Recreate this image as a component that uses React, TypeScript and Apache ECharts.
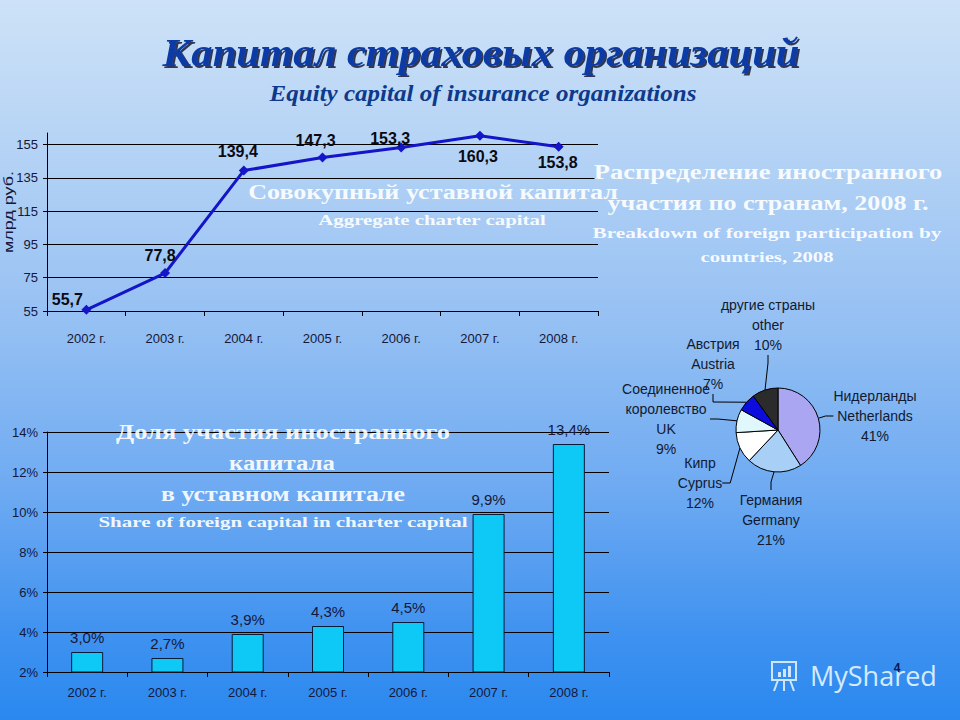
import React, { useEffect, useRef } from 'react';
import * as echarts from 'echarts';

// ---------- data ----------
const years = ['2002 г.', '2003 г.', '2004 г.', '2005 г.', '2006 г.', '2007 г.', '2008 г.'];
const capitalValues = [55.7, 77.8, 139.4, 147.3, 153.3, 160.3, 153.8];
const capitalTicks = [55, 75, 95, 115, 135, 155];
const foreignShareValues = [3.0, 2.7, 3.9, 4.3, 4.5, 9.9, 13.4];
const countryNamesRu = ['Нидерланды', 'Германия', 'Кипр', 'Соединенное\nкоролевство', 'Австрия', 'другие страны'];
const countryNamesEn = ['Netherlands', 'Germany', 'Cyprus', 'UK', 'Austria', 'other'];
const countryShares = [41, 21, 12, 9, 7, 10];

// ---------- styles ----------
const SANS = "'Liberation Sans', Arial, sans-serif";
const SERIF = "'Liberation Serif', 'DejaVu Serif', serif";
const lineBlue = '#1414c8';
const inkColor = '#14183a';
const pieColors = ['#aaa6f2', '#a8d0f6', '#ffffff', '#e0f8fb', '#0c0cdc', '#2b2b2b'];
const capitalLabelPlacement = ['top', 'top', 'top', 'top', 'top', 'bottom', 'bottom'];
const capitalLabelOffsets = [[-19, 8], [-5, 0], [-6, -1], [-7, 1], [-11, 9], [-2, 3], [-1, -2]];
const pieLabelCenters = [[875, 416], [771, 520], [700, 483], [666, 419], [713, 364], [768, 325]];

function measure(text: string, font: string): number {
  const ctx = document.createElement('canvas').getContext('2d');
  if (!ctx) return 0;
  ctx.font = font;
  return ctx.measureText(text).width;
}

function txt(text: string, x: number, y: number, font: string, fill: string, width?: number, extra: any = {}) {
  const m = width ? measure(text, font) : 0;
  return {
    type: 'text',
    x,
    y,
    z: 100,
    scaleX: width && m ? width / m : 1,
    rotation: extra.rotation || 0,
    style: {
      text,
      font,
      fill,
      align: 'center',
      verticalAlign: 'middle',
      textAlign: 'center',
      textVerticalAlign: 'middle',
      ...(extra.style || {}),
    },
  };
}

const fmtComma = (v: number) => v.toFixed(1).replace('.', ',');

export default function App() {
  const ref = useRef<HTMLDivElement>(null);

  useEffect(() => {
    if (!ref.current) return;
    const chart = echarts.init(ref.current, null, { renderer: 'svg' });

    const whiteBig = `bold 20px ${SERIF}`;
    const whiteSmall = `bold 15px ${SERIF}`;
    const white = 'rgba(255,255,255,0.92)';

    const option: any = {
      animation: false,
      backgroundColor: 'transparent',
      grid: [
        { left: 47, top: 133, width: 551, height: 178, containLabel: false },
        { left: 47, top: 432, width: 562, height: 240, containLabel: false },
      ],
      xAxis: [
        {
          type: 'category',
          gridIndex: 0,
          data: years,
          boundaryGap: true,
          axisLine: { show: true, lineStyle: { color: '#000', width: 1 } },
          axisTick: { show: true, length: 5, lineStyle: { color: '#000' } },
          axisLabel: { margin: 21, fontSize: 13, color: inkColor, fontFamily: SANS, interval: 0 },
          splitLine: { show: false },
        },
        {
          type: 'category',
          gridIndex: 1,
          data: years,
          boundaryGap: true,
          axisLine: { show: true, lineStyle: { color: '#000', width: 1 } },
          axisTick: { show: true, length: 5, lineStyle: { color: '#000' } },
          axisLabel: { margin: 14, fontSize: 13, color: inkColor, fontFamily: SANS, interval: 0 },
          splitLine: { show: false },
        },
      ],
      yAxis: [
        {
          type: 'value',
          gridIndex: 0,
          min: 55,
          max: 162,
          interval: 20,
          axisLine: { show: true, lineStyle: { color: '#000', width: 1 } },
          axisTick: { show: true, length: 4, lineStyle: { color: '#000' } },
          axisLabel: {
            margin: 9,
            fontSize: 13,
            color: inkColor,
            fontFamily: SANS,
            showMaxLabel: false,
            formatter: (v: number) => (capitalTicks.includes(v) ? String(v) : ''),
          },
          splitLine: { show: true, showMaxLine: false, lineStyle: { color: '#000', width: 1.2 } },
        },
        {
          type: 'value',
          gridIndex: 1,
          min: 2,
          max: 14,
          interval: 2,
          axisLine: { show: true, lineStyle: { color: '#000', width: 1 } },
          axisTick: { show: true, length: 4, lineStyle: { color: '#000' } },
          axisLabel: {
            margin: 9,
            fontSize: 13,
            color: inkColor,
            fontFamily: SANS,
            formatter: (v: number) => `${v}%`,
          },
          splitLine: { show: true, lineStyle: { color: '#000', width: 1.2 } },
        },
      ],
      series: [
        {
          type: 'line',
          xAxisIndex: 0,
          yAxisIndex: 0,
          data: capitalValues.map((v, i) => ({
            value: v,
            label: { position: capitalLabelPlacement[i], offset: capitalLabelOffsets[i] },
          })),
          lineStyle: { color: lineBlue, width: 3 },
          itemStyle: { color: lineBlue },
          symbol: 'diamond',
          symbolSize: 10,
          label: {
            show: true,
            formatter: (p: any) => fmtComma(p.value),
            fontWeight: 'bold',
            fontSize: 16,
            color: '#0a0a14',
            fontFamily: SANS,
          },
          z: 5,
        },
        {
          type: 'bar',
          xAxisIndex: 1,
          yAxisIndex: 1,
          data: foreignShareValues,
          barWidth: 32,
          itemStyle: { color: '#0ec8f6', borderColor: '#0a1a3a', borderWidth: 1 },
          label: {
            show: true,
            position: 'top',
            distance: 7,
            formatter: (p: any) => `${fmtComma(p.value)}%`,
            fontSize: 15,
            color: inkColor,
            fontFamily: SANS,
          },
          z: 5,
        },
        {
          type: 'pie',
          center: [778, 430],
          radius: 42,
          startAngle: 90,
          clockwise: true,
          data: countryShares.map((v, i) => ({
            value: v,
            name: countryNamesEn[i],
            itemStyle: { color: pieColors[i] },
          })),
          itemStyle: { borderColor: '#000', borderWidth: 1 },
          label: {
            show: true,
            formatter: (p: any) => `${countryNamesRu[p.dataIndex]}\n${countryNamesEn[p.dataIndex]}\n${p.value}%`,
            fontSize: 14,
            lineHeight: 20,
            color: '#111a30',
            fontFamily: SANS,
            align: 'center',
          },
          labelLine: { show: true, length: 8, length2: 8, lineStyle: { color: '#000', width: 1 } },
          labelLayout: (p: any) => ({
            x: pieLabelCenters[p.dataIndex][0],
            y: pieLabelCenters[p.dataIndex][1],
            align: 'center',
            verticalAlign: 'middle',
          }),
          z: 5,
        },
      ],
      graphic: [
        txt('Капитал страховых организаций', 481, 52, `italic bold 40px ${SERIF}`, '#0a3aa6', 637, {
          style: { textShadowColor: 'rgba(0,0,30,0.75)', textShadowOffsetX: 2, textShadowOffsetY: 2, textShadowBlur: 1 },
        }),
        txt('Equity capital of insurance organizations', 483, 93, `italic bold 24px ${SERIF}`, '#0d3a8c', 427, {
          style: { textShadowColor: 'rgba(0,0,40,0.4)', textShadowOffsetX: 1, textShadowOffsetY: 1 },
        }),
        txt('млрд руб.', 9, 212, `12px ${SANS}`, inkColor, 82, { rotation: Math.PI / 2 }),
        txt('Совокупный уставной капитал', 433, 192, whiteBig, white, 370),
        txt('Aggregate charter capital', 432, 220, whiteSmall, white, 228),
        txt('Распределение иностранного', 768, 172, whiteBig, white, 349),
        txt('участия по странам, 2008 г.', 768, 203, whiteBig, white, 321),
        txt('Breakdown of foreign participation by', 767, 233, whiteSmall, white, 349),
        txt('countries, 2008', 767, 257, whiteSmall, white, 133),
        txt('Доля участия иностранного', 283, 432, whiteBig, white, 334),
        txt('капитала', 282, 463, whiteBig, white, 106),
        txt('в уставном капитале', 283, 494, whiteBig, white, 244),
        txt('Share of foreign capital in charter capital', 283, 522, whiteSmall, white, 370),
        {
          type: 'group',
          z: 100,
          children: [
            { type: 'rect', shape: { x: 772, y: 662, width: 24, height: 18 }, style: { fill: 'none', stroke: '#cfe6ff', lineWidth: 2 } },
            { type: 'rect', shape: { x: 778, y: 672, width: 3, height: 5 }, style: { fill: '#cfe6ff' } },
            { type: 'rect', shape: { x: 783, y: 669, width: 3, height: 8 }, style: { fill: '#cfe6ff' } },
            { type: 'rect', shape: { x: 788, y: 666, width: 3, height: 11 }, style: { fill: '#cfe6ff' } },
            { type: 'line', shape: { x1: 778, y1: 680, x2: 774, y2: 691 }, style: { stroke: '#cfe6ff', lineWidth: 2 } },
            { type: 'line', shape: { x1: 784, y1: 680, x2: 784, y2: 691 }, style: { stroke: '#cfe6ff', lineWidth: 2 } },
            { type: 'line', shape: { x1: 790, y1: 680, x2: 794, y2: 691 }, style: { stroke: '#cfe6ff', lineWidth: 2 } },
          ],
        },
        {
          type: 'text',
          x: 810,
          y: 675,
          z: 100,
          style: { text: 'MyShared', font: `27px 'Open Sans', 'Noto Sans', sans-serif`, fill: '#d4eaff', align: 'left', verticalAlign: 'middle', textAlign: 'left', textVerticalAlign: 'middle' },
        },
        txt('4', 897, 668, `bold 12px ${SANS}`, '#0a1850'),
      ],
    };

    chart.setOption(option);
    return () => chart.dispose();
  }, []);

  return (
    <div
      style={{
        position: 'fixed',
        left: 0,
        top: 0,
        width: 960,
        height: 720,
        background: 'linear-gradient(to bottom, #cde2f7 0%, #b3d2f5 22%, #95c0f3 45%, #6eaaf2 68%, #3f92f0 88%, #2a88ef 100%)',
      }}
    >
      <div ref={ref} style={{ width: 960, height: 720 }} />
    </div>
  );
}
